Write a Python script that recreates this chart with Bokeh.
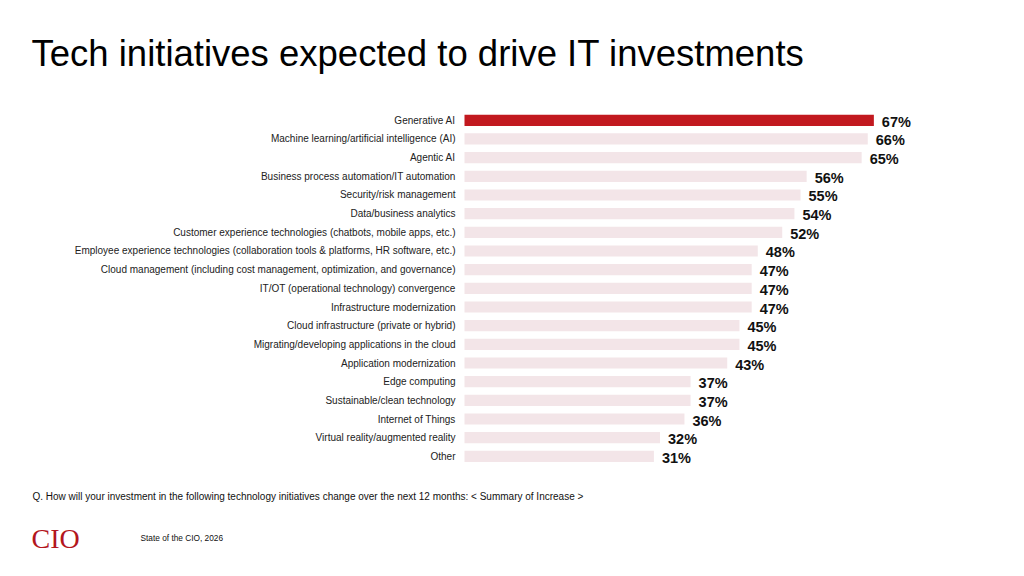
from bokeh.plotting import figure
from bokeh.models import Label, ColumnDataSource, Range1d
from bokeh.core.properties import value
from bokeh.embed import file_html
from bokeh.resources import INLINE

categories = [
    "Generative AI",
    "Machine learning/artificial intelligence (AI)",
    "Agentic AI",
    "Business process automation/IT automation",
    "Security/risk management",
    "Data/business analytics",
    "Customer experience technologies (chatbots, mobile apps, etc.)",
    "Employee experience technologies (collaboration tools & platforms, HR software, etc.)",
    "Cloud management (including cost management, optimization, and governance)",
    "IT/OT (operational technology) convergence",
    "Infrastructure modernization",
    "Cloud infrastructure (private or hybrid)",
    "Migrating/developing applications in the cloud",
    "Application modernization",
    "Edge computing",
    "Sustainable/clean technology",
    "Internet of Things",
    "Virtual reality/augmented reality",
    "Other",
]
values = [67, 66, 65, 56, 55, 54, 52, 48, 47, 47, 47, 45, 45, 43, 37, 37, 36, 32, 31]
highlight = "Generative AI"

RED = "#c2191f"
LIGHT = "#f3e5e8"
colors = [RED if c == highlight else LIGHT for c in categories]
labels = [f"{v}%" for v in values]
rows = list(range(len(categories)))

src = ColumnDataSource(dict(cat=categories, val=values, color=colors, lab=labels, row=rows,
                            zero=[0] * len(rows)))

W, H = 1024, 576
PX_PER_PCT = 6.11
BAR_X0 = 464
ROW_PX = 18.67
ROW0_PX = 119.8

p = figure(
    width=W, height=H,
    x_range=Range1d(-BAR_X0 / PX_PER_PCT, (W - BAR_X0) / PX_PER_PCT),
    y_range=Range1d((H - ROW0_PX) / ROW_PX, -ROW0_PX / ROW_PX),
    output_backend="svg", toolbar_location=None,
    min_border=0,
)
p.hbar(y="row", right="val", left=0, height=0.6, color="color", line_color=None, source=src)
p.text(x="val", y="row", text="lab", source=src, x_offset=8, y_offset=1.5,
       text_baseline="middle", text_align="left", text_font_size="14.5px",
       text_font_style="bold", text_color="#111111", text_font=value("Liberation Sans"))
p.text(x="zero", y="row", text="cat", source=src, x_offset=-9, y_offset=0,
       text_baseline="middle", text_align="right", text_font_size="10px",
       text_color="#222222", text_font=value("Liberation Sans"))

p.axis.visible = False
p.grid.visible = False
p.outline_line_color = None

def add_label(x, y_from_top, text, size, color="#000000", font="Liberation Sans", style="normal"):
    p.add_layout(Label(x=x, y=H - y_from_top, x_units="screen", y_units="screen",
                       text=text, text_font_size=size, text_color=color,
                       text_font=font, text_font_style=style, text_baseline="alphabetic"))

add_label(31, 52.5, "Tech initiatives expected to drive IT investments", "36.5px")
add_label(32, 496, "Q. How will your investment in the following technology initiatives change over the next 12 months: < Summary of Increase >", "10px", "#111111")
add_label(31, 538, "CIO", "28px", "#b3161d", "Liberation Serif")
add_label(140, 537.5, "State of the CIO, 2026", "8.3px", "#111111")

open("out.html", "w").write(file_html(p, INLINE))
